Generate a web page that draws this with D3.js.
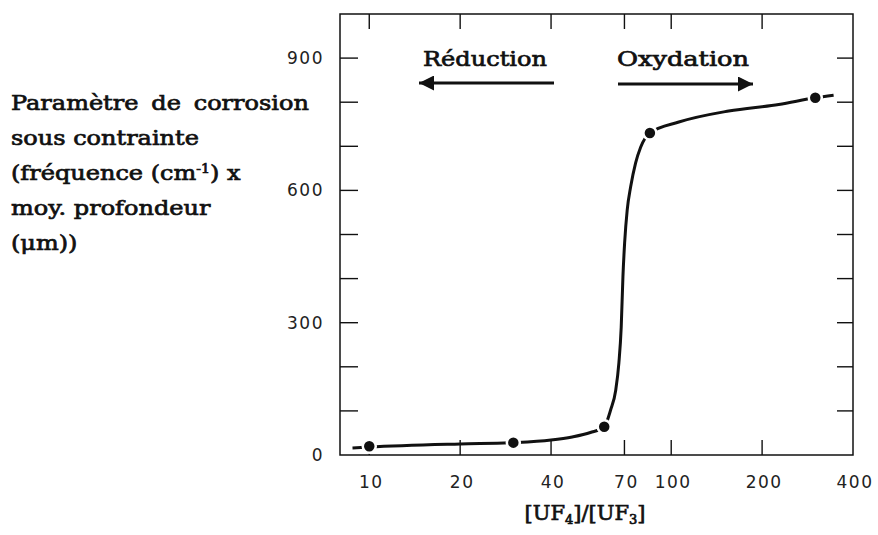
<!DOCTYPE html>
<html>
<head>
<meta charset="utf-8">
<script src="https://cdn.jsdelivr.net/npm/d3@7"></script>
<style>
  body { margin: 0; background: #fff; }
  svg { display: block; }
  .tick-label { font-family: "DejaVu Sans", sans-serif; font-size: 17px; letter-spacing: 1.5px; fill: #222; }
  .serif { font-family: "DejaVu Serif", serif; fill: #111; stroke: #111; stroke-width: 0.7px; }
</style>
</head>
<body>
<svg id="chart" width="878" height="535"></svg>
<script>
// measured points (ratio, parameter)
var ratios = [10, 30, 60, 85, 300];
var params = [20, 28, 64, 730, 810];

// hand-drawn curve through the points
var curveRatios = [8.8, 10, 20, 30, 40, 47, 54, 60, 63.0, 65.5, 67.1, 68.3, 69.2, 70.1, 71.5, 73.4, 76.2, 79.2, 85, 106, 155, 227, 300, 345];
var curveParams = [16, 18, 25, 28, 34, 41, 51, 64, 102, 147, 209, 290, 404, 481, 556, 608, 662, 698, 730, 755, 780, 795, 810, 816];

var xTicks = [10, 20, 40, 70, 100, 200, 400];
var yTicks = [0, 100, 200, 300, 400, 500, 600, 700, 800, 900];
var yLabels = [0, 300, 600, 900];

var yTitle = ["Paramètre de corrosion", "sous contrainte", "(fréquence (cm", "moy. profondeur", "(μm))"];

var svg = d3.select("#chart");
var plot = {left: 340, right: 853, top: 14, bottom: 455};

var x = d3.scaleLog().domain([8, 400]).range([plot.left, plot.right]);
var y = d3.scaleLinear().domain([0, 1000]).range([plot.bottom, plot.top]);

// frame
svg.append("rect")
   .attr("x", plot.left).attr("y", plot.top)
   .attr("width", plot.right - plot.left)
   .attr("height", plot.bottom - plot.top)
   .attr("fill", "none").attr("stroke", "#111").attr("stroke-width", 1.5);

// inward ticks on all four sides
var axisG = svg.append("g").attr("stroke", "#111").attr("stroke-width", 1.4);
xTicks.filter(function(d) { return d < 400; }).forEach(function(d) {
    axisG.append("line").attr("x1", x(d)).attr("x2", x(d))
         .attr("y1", plot.bottom).attr("y2", plot.bottom - 15);
    axisG.append("line").attr("x1", x(d)).attr("x2", x(d))
         .attr("y1", plot.top).attr("y2", plot.top + 15);
});
yTicks.filter(function(d) { return d > 0; }).forEach(function(d) {
    axisG.append("line").attr("x1", plot.left).attr("x2", plot.left + 18)
         .attr("y1", y(d)).attr("y2", y(d));
    axisG.append("line").attr("x1", plot.right).attr("x2", plot.right - 16)
         .attr("y1", y(d)).attr("y2", y(d));
});

svg.selectAll(".xlab").data(xTicks).enter().append("text")
   .attr("class", "tick-label")
   .attr("x", function(d) { return x(d) + 2; })
   .attr("y", 488)
   .attr("text-anchor", "middle")
   .text(function(d) { return d; });

svg.selectAll(".ylab").data(yLabels).enter().append("text")
   .attr("class", "tick-label")
   .attr("x", 324)
   .attr("y", function(d) { return y(d) + 6; })
   .attr("text-anchor", "end")
   .text(function(d) { return d; });

// curve
var pts = curveRatios.map(function(r, i) { return [x(r), y(curveParams[i])]; });
svg.append("path")
   .attr("d", d3.line().curve(d3.curveMonotoneX)(pts))
   .attr("fill", "none").attr("stroke", "#111").attr("stroke-width", 3);

svg.selectAll(".dot").data(ratios).enter().append("circle")
   .attr("cx", function(d) { return x(d); })
   .attr("cy", function(d, i) { return y(params[i]); })
   .attr("r", 6.5)
   .attr("fill", "#111").attr("stroke", "#fff").attr("stroke-width", 2.5);

// arrows
var defs = svg.append("defs");
defs.append("marker").attr("id", "head")
    .attr("viewBox", "0 0 10 10").attr("refX", 10).attr("refY", 5)
    .attr("markerWidth", 17).attr("markerHeight", 15)
    .attr("markerUnits", "userSpaceOnUse")
    .attr("orient", "auto")
    .append("path").attr("d", "M0,0L10,5L0,10Z").attr("fill", "#111");

svg.append("line").attr("x1", 554).attr("y1", 83).attr("x2", 419).attr("y2", 83)
   .attr("stroke", "#111").attr("stroke-width", 2.8).attr("marker-end", "url(#head)");
svg.append("line").attr("x1", 618).attr("y1", 84).attr("x2", 753).attr("y2", 84)
   .attr("stroke", "#111").attr("stroke-width", 2.8).attr("marker-end", "url(#head)");

svg.append("text").attr("class", "serif").attr("x", 485).attr("y", 66)
   .attr("text-anchor", "middle").attr("textLength", 124).attr("lengthAdjust", "spacingAndGlyphs")
   .style("font-size", "21px").text("Réduction");
svg.append("text").attr("class", "serif").attr("x", 683).attr("y", 66)
   .attr("text-anchor", "middle").attr("textLength", 132).attr("lengthAdjust", "spacingAndGlyphs")
   .style("font-size", "21px").text("Oxydation");

// y title, widened a bit to match the wide original face
var ytG = svg.append("g");
var yt = ytG.append("text").attr("class", "serif").style("font-size", "20.5px");
yTitle.forEach(function(line, i) {
    var t = yt.append("tspan").attr("x", 0).attr("y", 110 + i * 35).text(line);
    if (i === 2) {
        yt.append("tspan").attr("dy", -7).style("font-size", "12px").text("-1");
        yt.append("tspan").attr("dy", 7).text(") x");
    }
});
var spans = yt.selectAll("tspan").nodes();
var sx = 188 / spans[1].getComputedTextLength();
// first line is justified across the column
var w0 = spans[0].getComputedTextLength() * sx;
d3.select(spans[0]).style("word-spacing", ((298 - w0) / sx / 2) + "px");
ytG.attr("transform", "translate(11,0) scale(" + sx + ",1)");

// x title
var xt = svg.append("text").attr("class", "serif").attr("x", 585).attr("y", 520)
   .attr("text-anchor", "middle").style("font-size", "21px");
xt.append("tspan").text("[UF");
xt.append("tspan").attr("dy", 4).style("font-size", "13px").text("4");
xt.append("tspan").attr("dy", -4).text("]/[UF");
xt.append("tspan").attr("dy", 4).style("font-size", "13px").text("3");
xt.append("tspan").attr("dy", -4).text("]");
</script>
</body>
</html>
